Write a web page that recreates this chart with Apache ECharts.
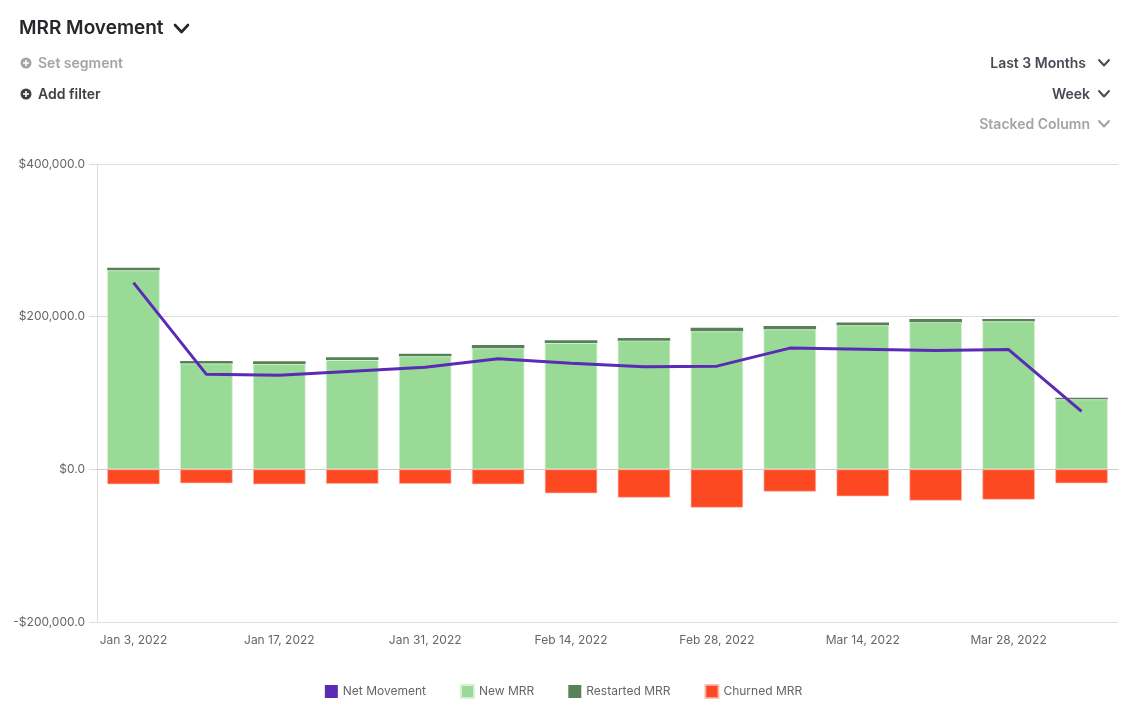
<!DOCTYPE html>
<html>
<head>
<meta charset="utf-8">
<script src="https://cdn.jsdelivr.net/npm/echarts@6/dist/echarts.min.js"></script>
<style>
html,body{margin:0;padding:0;background:#fff;}
#chart{width:1127px;height:713px;}
</style>
</head>
<body>
<div id="chart"></div>
<script>
const categories = ['Jan 3, 2022','Jan 10, 2022','Jan 17, 2022','Jan 24, 2022','Jan 31, 2022','Feb 7, 2022','Feb 14, 2022','Feb 21, 2022','Feb 28, 2022','Mar 7, 2022','Mar 14, 2022','Mar 21, 2022','Mar 28, 2022','Apr 4, 2022'];
const newMRR = [260700, 138500, 138000, 143200, 148000, 158500, 165500, 168600, 180800, 183400, 188600, 192600, 193900, 91700];
const restartedMRR = [3500, 3400, 3500, 3500, 3500, 4400, 3500, 3400, 4800, 4300, 3900, 4300, 3000, 2000];
const churnedMRR = [-19600, -18300, -19600, -19000, -19000, -19600, -31400, -37100, -50200, -29200, -35400, -41000, -39700, -18300];
const netMovement = [244600, 124400, 123100, 128400, 133600, 145000, 138900, 134500, 135200, 158800, 157200, 155600, 156900, 75800];
const yTicks = {min: -200000, max: 400000, interval: 200000};

const FONT = 'Inter, "Noto Sans", sans-serif';
const chart = echarts.init(document.getElementById('chart'));

function fmt(v){
  const s = Math.abs(v).toLocaleString('en-US',{minimumFractionDigits:1,maximumFractionDigits:1});
  return (v < 0 ? '-$' : '$') + s;
}
function chevron(x, y, color, w, h, lw){
  return {type:'polyline', shape:{points:[[x,y],[x+w/2,y+h],[x+w,y]]}, style:{stroke:color, lineWidth:lw, fill:null, lineCap:'round', lineJoin:'round'}, silent:true};
}
function plusCircle(cx, cy, color){
  return [
    {type:'circle', shape:{cx:cx, cy:cy, r:5.5}, style:{fill:color}, silent:true},
    {type:'line', shape:{x1:cx-3, y1:cy, x2:cx+3, y2:cy}, style:{stroke:'#fff', lineWidth:1.6}, silent:true},
    {type:'line', shape:{x1:cx, y1:cy-3, x2:cx, y2:cy+3}, style:{stroke:'#fff', lineWidth:1.6}, silent:true}
  ];
}

chart.setOption({
  animation:false,
  textStyle:{fontFamily:FONT},
  graphic:[
    {type:'text', left:19, top:19, style:{text:'MRR Movement', font:'600 19px '+FONT, fill:'#26262b'}},
    chevron(175, 25, '#26262b', 13, 7, 2.6),
    ...plusCircle(26, 63, '#a3a3a8'),
    {type:'text', left:38, top:57, style:{text:'Set segment', font:'600 14px '+FONT, fill:'#a3a3a8'}},
    ...plusCircle(26, 94, '#3f3f46'),
    {type:'text', left:38, top:88, style:{text:'Add filter', font:'600 14px '+FONT, fill:'#3f3f46'}},
    {type:'text', right:41, top:57, style:{text:'Last 3 Months', font:'600 14px '+FONT, fill:'#4a4a55', align:'right'}},
    chevron(1099, 60, '#4a4a55', 10, 5.5, 2),
    {type:'text', right:37, top:88, style:{text:'Week', font:'600 14px '+FONT, fill:'#4a4a55', align:'right'}},
    chevron(1099, 91, '#4a4a55', 10, 5.5, 2),
    {type:'text', right:37, top:118, style:{text:'Stacked Column', font:'600 14px '+FONT, fill:'#a3a3a8', align:'right'}},
    chevron(1099, 121, '#a3a3a8', 10, 5.5, 2)
  ],
  legend:{
    bottom:9, left:'center', itemWidth:13, itemHeight:13, itemGap:34,
    icon:'rect',
    textStyle:{color:'#666', fontSize:12, fontFamily:FONT},
    data:['Net Movement','New MRR','Restarted MRR','Churned MRR']
  },
  grid:{left:97, right:9, top:164, bottom:91, containLabel:false},
  xAxis:{
    type:'category', data:categories,
    axisLine:{show:true, lineStyle:{color:'#ccc'}},
    axisTick:{show:false},
    axisLabel:{interval:1, color:'#666', fontSize:12, margin:12, fontFamily:FONT},
    splitLine:{show:false}
  },
  yAxis:{
    type:'value', min:yTicks.min, max:yTicks.max, interval:yTicks.interval,
    axisLine:{show:true, lineStyle:{color:'#ddd'}},
    axisTick:{show:true, length:8, lineStyle:{color:'#ddd'}},
    axisLabel:{formatter:fmt, color:'#666', fontSize:12, margin:12, fontFamily:FONT},
    splitLine:{show:true, lineStyle:{color:'#ddd'}}
  },
  series:[
    {name:'New MRR', type:'bar', stack:'mrr', data:newMRR, barWidth:'72%', itemStyle:{color:'#99da96', borderColor:'rgba(215,240,212,0.9)', borderWidth:0.8}},
    {name:'Restarted MRR', type:'bar', stack:'mrr', data:restartedMRR, barWidth:'72%', itemStyle:{color:'#578157'}},
    {name:'Churned MRR', type:'bar', stack:'mrr', data:churnedMRR, barWidth:'72%', itemStyle:{color:'#fd4922', borderColor:'rgba(255,180,170,0.8)', borderWidth:0.8}},
    {name:'Net Movement', type:'line', data:netMovement, showSymbol:false, symbol:'none', lineStyle:{color:'#5b2bb5', width:3}, itemStyle:{color:'#5b2bb5'}, z:5}
  ]
});
</script>
</body>
</html>
